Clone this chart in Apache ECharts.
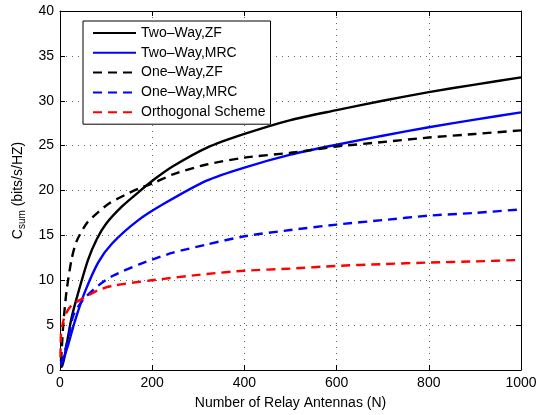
<!DOCTYPE html>
<html>
<head>
<meta charset="utf-8">
<script src="https://cdn.jsdelivr.net/npm/echarts@6/dist/echarts.min.js"></script>
<style>html,body{margin:0;padding:0;background:#fff}#c{width:543px;height:415px}</style>
</head>
<body>
<div id="c"></div>
<script>
// Data
const seriesNames = ['Two\u2013Way,ZF', 'Two\u2013Way,MRC', 'One\u2013Way,ZF', 'One\u2013Way,MRC', 'Orthogonal Scheme'];

const twoWayZF_N = [2, 5, 10, 15, 25, 40, 61, 80, 100, 134, 170, 206, 245, 318, 400, 500, 600, 700, 800, 900, 1000];
const twoWayZF_C = [0.3, 0.5, 1.5, 3.0, 5.8, 8.7, 12.3, 14.6, 16.3, 18.2, 19.8, 21.3, 22.7, 24.75, 26.3, 27.85, 28.95, 30.0, 30.96, 31.8, 32.6];

const twoWayMRC_N = [2, 4, 10, 18, 32, 54, 83, 113, 170, 228, 318, 400, 500, 600, 700, 800, 900, 1000];
const twoWayMRC_C = [0.5, 0.7, 1.6, 2.85, 5.4, 8.7, 12.0, 14.1, 16.7, 18.6, 21.1, 22.56, 24.0, 25.1, 26.1, 27.05, 27.9, 28.7];

const oneWayZF_N = [2, 4, 7, 14, 25, 36, 58, 83, 108, 141, 170, 206, 245, 318, 400, 500, 600, 700, 800, 900, 1000];
const oneWayZF_C = [1.0, 2.5, 5.0, 8.7, 12.3, 14.35, 16.35, 17.6, 18.6, 19.5, 20.2, 20.9, 21.8, 22.9, 23.66, 24.2, 24.9, 25.4, 25.9, 26.3, 26.7];

const oneWayMRC_N = [2, 10, 20, 29, 50, 83, 115, 173, 200, 245, 318, 400, 500, 600, 700, 800, 900, 1000];
const oneWayMRC_C = [0.6, 2.0, 4.0, 6.1, 7.8, 9.4, 10.5, 11.8, 12.3, 13.07, 13.98, 14.9, 15.6, 16.2, 16.7, 17.2, 17.5, 17.9];

const orth_N = [1, 2, 5, 11, 25, 54, 83, 115, 195, 318, 400, 500, 600, 700, 800, 900, 1000];
const orth_C = [1.4, 3.9, 5.0, 6.1, 7.2, 8.1, 8.9, 9.4, 9.97, 10.7, 11.06, 11.3, 11.6, 11.8, 11.97, 12.1, 12.27];

const xTicks = [0, 200, 400, 600, 800, 1000];
const yTicks = [0, 5, 10, 15, 20, 25, 30, 35, 40];

const pair = (xs, ys) => xs.map((x, i) => [x, ys[i]]);
const FONT = 'Liberation Sans';

const chart = echarts.init(document.getElementById('c'), null, {renderer: 'canvas'});

function mkSeries(name, xs, ys, color, dashed) {
  return {
    name: name, type: 'line', data: pair(xs, ys),
    xAxisIndex: 0, yAxisIndex: 0,
    symbol: 'none', smooth: 0.25,
    lineStyle: {color: color, width: 2.4, type: dashed ? [9, 6] : 'solid'},
    itemStyle: {color: color},
    animation: false
  };
}

const gridLine = {show: true, lineStyle: {color: '#666', width: 1, type: [1, 5]}};
const tickInside = {show: true, inside: true, length: 5, lineStyle: {color: '#000', width: 1}};

chart.setOption({
  backgroundColor: '#fff',
  animation: false,
  grid: {left: 60, right: 22, top: 11, bottom: 39, containLabel: false},
  legend: {
    show: true,
    data: seriesNames,
    orient: 'vertical',
    left: 83, top: 21,
    itemWidth: 43, itemHeight: 14, itemGap: 5.8,
    padding: [5, 5, 5, 9],
    backgroundColor: '#fff',
    borderColor: '#000', borderWidth: 1, borderRadius: 0,
    itemStyle: {opacity: 0},
    textStyle: {fontFamily: FONT, fontSize: 14, color: '#000'}
  },
  xAxis: [
    {
      type: 'value', min: 0, max: 1000, interval: 200, position: 'bottom',
      name: 'Number of Relay Antennas (N)', nameLocation: 'middle', nameGap: 26,
      nameTextStyle: {fontFamily: FONT, fontSize: 14, color: '#000'},
      axisLine: {show: true, onZero: false, lineStyle: {color: '#000', width: 1}},
      axisTick: tickInside,
      axisLabel: {fontFamily: FONT, fontSize: 14, color: '#000', margin: 6,
        formatter: v => xTicks.includes(v) ? String(v) : ''},
      splitLine: gridLine
    },
    {
      type: 'value', min: 0, max: 1000, interval: 200, position: 'top',
      axisLine: {show: true, onZero: false, lineStyle: {color: '#000', width: 1}},
      axisTick: tickInside, axisLabel: {show: false}, splitLine: {show: false}
    }
  ],
  yAxis: [
    {
      type: 'value', min: 0, max: 40, interval: 5, position: 'left',
      name: '{c|C}{s|sum} {c|(bits/s/HZ)}', nameLocation: 'middle', nameGap: 28, nameRotate: 90,
      nameTextStyle: {
        fontFamily: FONT, fontSize: 14, color: '#000',
        rich: {
          c: {fontFamily: FONT, fontSize: 14, color: '#000'},
          s: {fontFamily: FONT, fontSize: 10, color: '#000', verticalAlign: 'bottom', padding: [8, 0, 0, 0]}
        }
      },
      axisLine: {show: true, onZero: false, lineStyle: {color: '#000', width: 1}},
      axisTick: tickInside,
      axisLabel: {fontFamily: FONT, fontSize: 14, color: '#000', margin: 6,
        formatter: v => yTicks.includes(v) ? String(v) : ''},
      splitLine: gridLine
    },
    {
      type: 'value', min: 0, max: 40, interval: 5, position: 'right',
      axisLine: {show: true, onZero: false, lineStyle: {color: '#000', width: 1}},
      axisTick: tickInside, axisLabel: {show: false}, splitLine: {show: false}
    }
  ],
  series: [
    mkSeries(seriesNames[0], twoWayZF_N, twoWayZF_C, '#000000', false),
    mkSeries(seriesNames[1], twoWayMRC_N, twoWayMRC_C, '#0000ff', false),
    mkSeries(seriesNames[2], oneWayZF_N, oneWayZF_C, '#000000', true),
    mkSeries(seriesNames[3], oneWayMRC_N, oneWayMRC_C, '#0000ff', true),
    mkSeries(seriesNames[4], orth_N, orth_C, '#ff0000', true)
  ]
});
</script>
</body>
</html>
